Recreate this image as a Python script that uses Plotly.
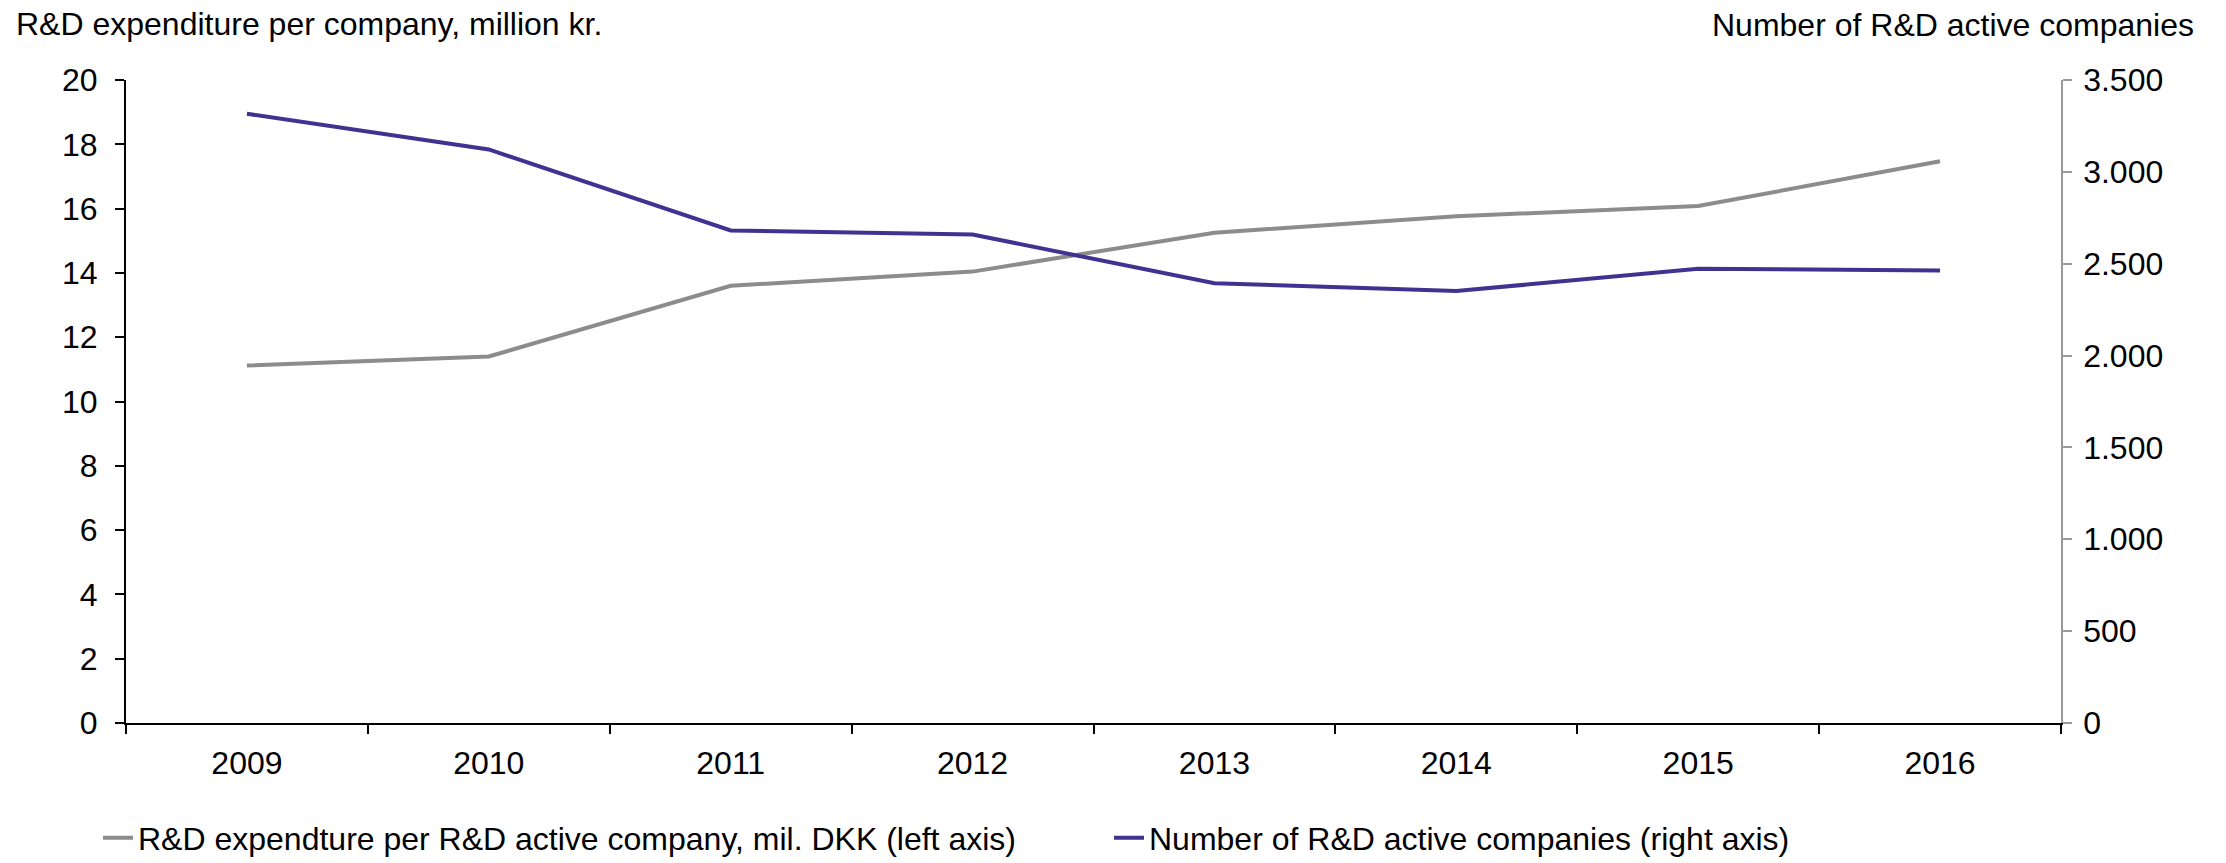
import plotly.graph_objects as go

years = ["2009", "2010", "2011", "2012", "2013", "2014", "2015", "2016"]
expenditure = [11.12, 11.40, 13.60, 14.04, 15.25, 15.76, 16.08, 17.47]
companies = [3316, 3122, 2681, 2659, 2394, 2351, 2473, 2463]

name_exp = "R&D expendture per R&D active company, mil. DKK (left axis)"
name_cmp = "Number of R&D active companies (right axis)"
title_left = "R&D expenditure per company, million kr."
title_right = "Number of R&D active companies"

FONT = "Liberation Sans, Arial, sans-serif"
FS = 32
GREY = "#8c8c8c"
PURPLE = "#433192"

W, H = 2226, 863
L, R, T, B = 126, 165, 80, 140
pw, ph = W - L - R, H - T - B

fig = go.Figure()
fig.add_trace(go.Scatter(x=years, y=expenditure, name=name_exp, mode="lines",
                         line=dict(color=GREY, width=4), yaxis="y",
                         legendwidth=966))
fig.add_trace(go.Scatter(x=years, y=companies, name=name_cmp, mode="lines",
                         line=dict(color=PURPLE, width=4), yaxis="y2",
                         legendwidth=650))

fig.update_layout(
    width=W, height=H,
    margin=dict(l=L, r=R, t=T, b=B, pad=0, autoexpand=False),
    paper_bgcolor="white", plot_bgcolor="white",
    font=dict(family=FONT, size=FS, color="black"),
    separators=",.",
    showlegend=True,
    legend=dict(orientation="h", xref="container", x=98 / W, xanchor="left",
                yref="container", y=1 - 838 / H, yanchor="middle",
                font=dict(family=FONT, size=FS, color="black"),
                bgcolor="rgba(0,0,0,0)", traceorder="normal"),
    xaxis=dict(type="category", range=[-0.5, 7.5], showgrid=False,
               showline=True, linecolor="black", linewidth=2,
               ticks="outside", tickson="boundaries", ticklen=9,
               tickwidth=2, tickcolor="black", ticklabelstandoff=11,
               zeroline=False),
    yaxis=dict(range=[0, 20], dtick=2, showgrid=False, zeroline=False,
               showline=True, linecolor="black", linewidth=2,
               ticks="outside", ticklen=9, tickwidth=2, tickcolor="black",
               ticklabelstandoff=11),
    yaxis2=dict(range=[0, 3500], dtick=500, overlaying="y", side="right",
                showgrid=False, zeroline=False, tickformat=",d",
                showline=True, linecolor="#999999", linewidth=1.5,
                ticks="outside", ticklen=9, tickwidth=1.5, tickcolor="#999999",
                ticklabelstandoff=5),
    annotations=[
        dict(text=title_left, xref="paper", yref="paper",
             x=(14 - L) / pw, y=(T + ph - 24) / ph, xanchor="left",
             yanchor="middle", showarrow=False,
             font=dict(family=FONT, size=FS, color="black")),
        dict(text=title_right, xref="paper", yref="paper",
             x=(2196 - L) / pw, y=(T + ph - 25) / ph, xanchor="right",
             yanchor="middle", showarrow=False,
             font=dict(family=FONT, size=FS, color="black")),
    ],
)

fig.write_html("out.html")
